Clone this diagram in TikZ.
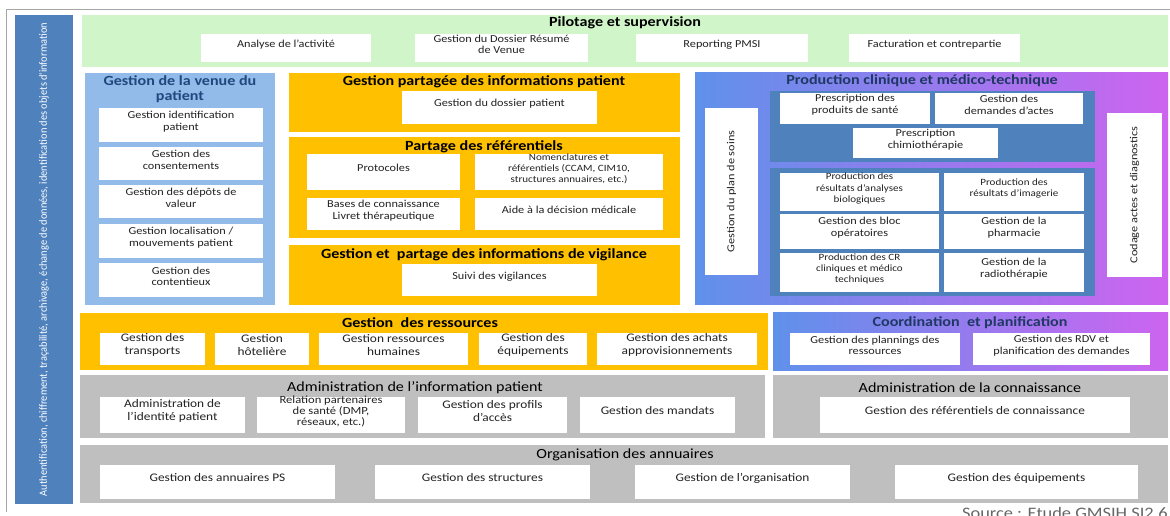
\documentclass[tikz,border=0pt]{standalone}
\usepackage{fontspec}
\setmainfont{Carlito}[FakeStretch=1.15]
\newfontfamily\bandfont{Carlito}[FakeStretch=0.94]
\usetikzlibrary{fit}
\definecolor{pgreen}{RGB}{208,245,200}
\definecolor{pblue}{RGB}{146,187,233}
\definecolor{pyellow}{RGB}{255,192,0}
\definecolor{steel}{RGB}{79,129,189}
\definecolor{gleft}{RGB}{95,145,235}
\definecolor{gright}{RGB}{205,100,240}
\definecolor{pgray}{RGB}{191,191,191}
\definecolor{navy}{RGB}{31,56,100}
\definecolor{tealblue}{RGB}{31,73,125}
\definecolor{celltext}{RGB}{35,35,35}
\begin{document}
\begin{tikzpicture}[x=0.75pt,y=-0.75pt,
  panel/.style={draw=none,inner sep=0pt},
  cell/.style={draw=none,fill=white,inner sep=0pt,align=center,text=celltext,
    font=\fontsize{8}{8.8}\selectfont},
  smallcell/.style={cell,font=\fontsize{7.2}{8.4}\selectfont},
  bigcell/.style={cell,font=\fontsize{8.7}{9.2}\selectfont},
  tightcell/.style={cell,font=\fontsize{8.2}{8.4}\selectfont},
  title/.style={inner sep=0pt,align=center,font=\fontsize{10.5}{11.5}\selectfont\bfseries},
  ltitle/.style={inner sep=0pt,align=center,font=\fontsize{10.5}{11.5}\selectfont}]
\useasboundingbox (0,0) rectangle (1170,516);
\fill[white] (0,0) rectangle (1170,516);
% outer frame lines
\draw[gray!70,line width=0.6pt] (6,512) -- (6,9) -- (1170,9);

% vertical security band
\node[panel,fill=steel,fit={(15,15)(73,504)}] (sec) {};
\node[rotate=90,text=white,inner sep=0pt,font=\bandfont\fontsize{8.3}{9}\selectfont] (sectext) at (sec.center)
  {Authentification, chiffrement, traçabilité, archivage, échange de données, identification des objets d'information};

% Pilotage et supervision
\node[panel,fill=pgreen,fit={(82,15)(1168,67)}] (pil) {};
\node[title] (piltitle) at (625,23) {Pilotage et supervision};
\node[cell,fit={(201,34)(371,62)}] (p1) {Analyse de l'activité};
\node[cell,fit={(415,34)(588,62)}] (p2) {Gestion du Dossier Résumé\\de Venue};
\node[cell,fit={(636,34)(808,62)}] (p3) {Reporting PMSI};
\node[cell,fit={(849,34)(1020,62)}] (p4) {Facturation et contrepartie};

% Gestion de la venue du patient
\node[panel,fill=pblue,fit={(85,73)(275,305)}] (ven) {};
\node[title,text=tealblue] (ventitle) at (180,89) {Gestion de la venue du\\patient};
\node[cell,fit={(99,108)(263,142)}] (v1) {Gestion identification\\patient};
\node[cell,fit={(99,147)(263,180)}] (v2) {Gestion des\\consentements};
\node[cell,fit={(99,185)(263,218)}] (v3) {Gestion des dépôts de\\valeur};
\node[cell,fit={(99,224)(263,258)}] (v4) {Gestion localisation /\\mouvements patient};
\node[cell,fit={(99,263)(263,297)}] (v5) {Gestion des\\contentieux};

% Gestion partagée des informations patient
\node[panel,fill=pyellow,fit={(289,73)(680,132)}] (gpi) {};
\node[title] (gpititle) at (484,82) {Gestion partagée des informations patient};
\node[cell,fit={(402,91)(597,124)}] (g1) {Gestion du dossier patient};

% Partage des référentiels
\node[panel,fill=pyellow,fit={(289,137)(680,238)}] (ref) {};
\node[title] (reftitle) at (484,147) {Partage des référentiels};
\node[cell,fit={(307,154)(460,190)}] (r1) {Protocoles};
\node[smallcell,fit={(475,154)(663,190)}] (r2) {Nomenclatures et\\référentiels (CCAM, CIM10,\\structures annuaires, etc.)};
\node[cell,fit={(307,198)(460,230)}] (r3) {Bases de connaissance\\Livret thérapeutique};
\node[cell,fit={(475,198)(663,230)}] (r4) {Aide à la décision médicale};

% Vigilance
\node[panel,fill=pyellow,fit={(289,245)(680,305)}] (vig) {};
\node[title] (vigtitle) at (484,255) {Gestion et \ partage des informations de vigilance};
\node[cell,fit={(402,264)(597,296)}] (vg1) {Suivi des vigilances};

% Production clinique et médico-technique
\node[panel,left color=gleft,right color=gright,fit={(695,73)(1168,305)}] (prod) {};
\node[title,text=navy] (prodtitle) at (922,81) {Production clinique et médico-technique};
\node[cell,fit={(705,108)(758,275)}] (pl) {};
\node[cell,rotate=90] (pltext) at (pl.center) {Gestion du plan de soins};
\node[cell,fit={(1107,113)(1162,277)}] (cd) {};
\node[cell,rotate=90] (cdtext) at (cd.center) {Codage actes et diagnostics};
\node[panel,fill=steel,fit={(770,91)(1095,162)}] (pa) {};
\node[cell,fit={(780,93)(930,124)}] (pa1) {Prescription des\\produits de santé};
\node[cell,fit={(935,93)(1083,124)}] (pa2) {Gestion des\\demandes d'actes};
\node[cell,fit={(853,128)(998,158)}] (pa3) {Prescription\\chimiothérapie};
\node[panel,fill=steel,fit={(770,168)(1095,296)}] (pb) {};
\node[smallcell,fit={(780,173)(939,211)}] (pb1) {Production des\\résultats d'analyses\\biologiques};
\node[smallcell,fit={(944,173)(1084,211)}] (pb2) {Production des\\résultats d'imagerie};
\node[cell,fit={(780,214)(939,249)}] (pb3) {Gestion des bloc\\opératoires};
\node[cell,fit={(944,214)(1084,249)}] (pb4) {Gestion de la\\pharmacie};
\node[smallcell,fit={(780,253)(939,292)}] (pb5) {Production des CR\\cliniques et médico\\techniques};
\node[cell,fit={(944,253)(1084,292)}] (pb6) {Gestion de la\\radiothérapie};

% Gestion des ressources
\node[panel,fill=pyellow,fit={(80,313)(768,370)}] (res) {};
\node[title] (restitle) at (420,323) {Gestion \ des ressources};
\node[bigcell,fit={(100,333)(205,365)}] (rs1) {Gestion des\\transports};
\node[bigcell,fit={(215,333)(309,365)}] (rs2) {Gestion\\hôtelière};
\node[bigcell,fit={(319,333)(468,365)}] (rs3) {Gestion ressources\\humaines};
\node[bigcell,fit={(479,333)(587,365)}] (rs4) {Gestion des\\équipements};
\node[bigcell,fit={(597,333)(757,365)}] (rs5) {Gestion des achats\\approvisionnements};

% Coordination et planification
\node[panel,left color=gleft,right color=gright,fit={(773,313)(1168,370)}] (coo) {};
\node[title,text=navy] (cootitle) at (970,323) {Coordination \ et planification};
\node[cell,fit={(790,333)(960,365)}] (co1) {Gestion des plannings des\\ressources};
\node[cell,fit={(973,333)(1150,365)}] (co2) {Gestion des RDV et\\planification des demandes};

% Administration de l'information patient
\node[panel,fill=pgray,fit={(80,375)(765,438)}] (adm) {};
\node[ltitle] (admtitle) at (415,388) {Administration de l'information patient};
\node[bigcell,fit={(100,397)(245,433)}] (ad1) {Administration de\\l'identité patient};
\node[tightcell,fit={(257,397)(405,433)}] (ad2) {Relation partenaires\\de santé (DMP,\\réseaux, etc.)};
\node[bigcell,fit={(418,397)(567,433)}] (ad3) {Gestion des profils\\d'accès};
\node[bigcell,fit={(580,397)(735,433)}] (ad4) {Gestion des mandats};

% Administration de la connaissance
\node[panel,fill=pgray,fit={(773,375)(1168,438)}] (kno) {};
\node[ltitle] (knotitle) at (970,388) {Administration de la connaissance};
\node[bigcell,fit={(820,397)(1130,433)}] (kn1) {Gestion des référentiels de connaissance};

% Organisation des annuaires
\node[panel,fill=pgray,fit={(80,445)(1168,503)}] (ann) {};
\node[ltitle] (anntitle) at (625,455) {Organisation des annuaires};
\node[bigcell,fit={(100,465)(335,499)}] (an1) {Gestion des annuaires PS};
\node[bigcell,fit={(375,465)(590,499)}] (an2) {Gestion des structures};
\node[bigcell,fit={(635,465)(850,499)}] (an3) {Gestion de l'organisation};
\node[bigcell,fit={(895,465)(1138,499)}] (an4) {Gestion des équipements};

% source line, running past the lower edge
\node[anchor=north east,inner sep=0pt,text=gray!80!black,font=\fontsize{12}{14}\selectfont] (src) at (1168,507) {Source : Etude GMSIH SI2.6};
\end{tikzpicture}
\end{document}
